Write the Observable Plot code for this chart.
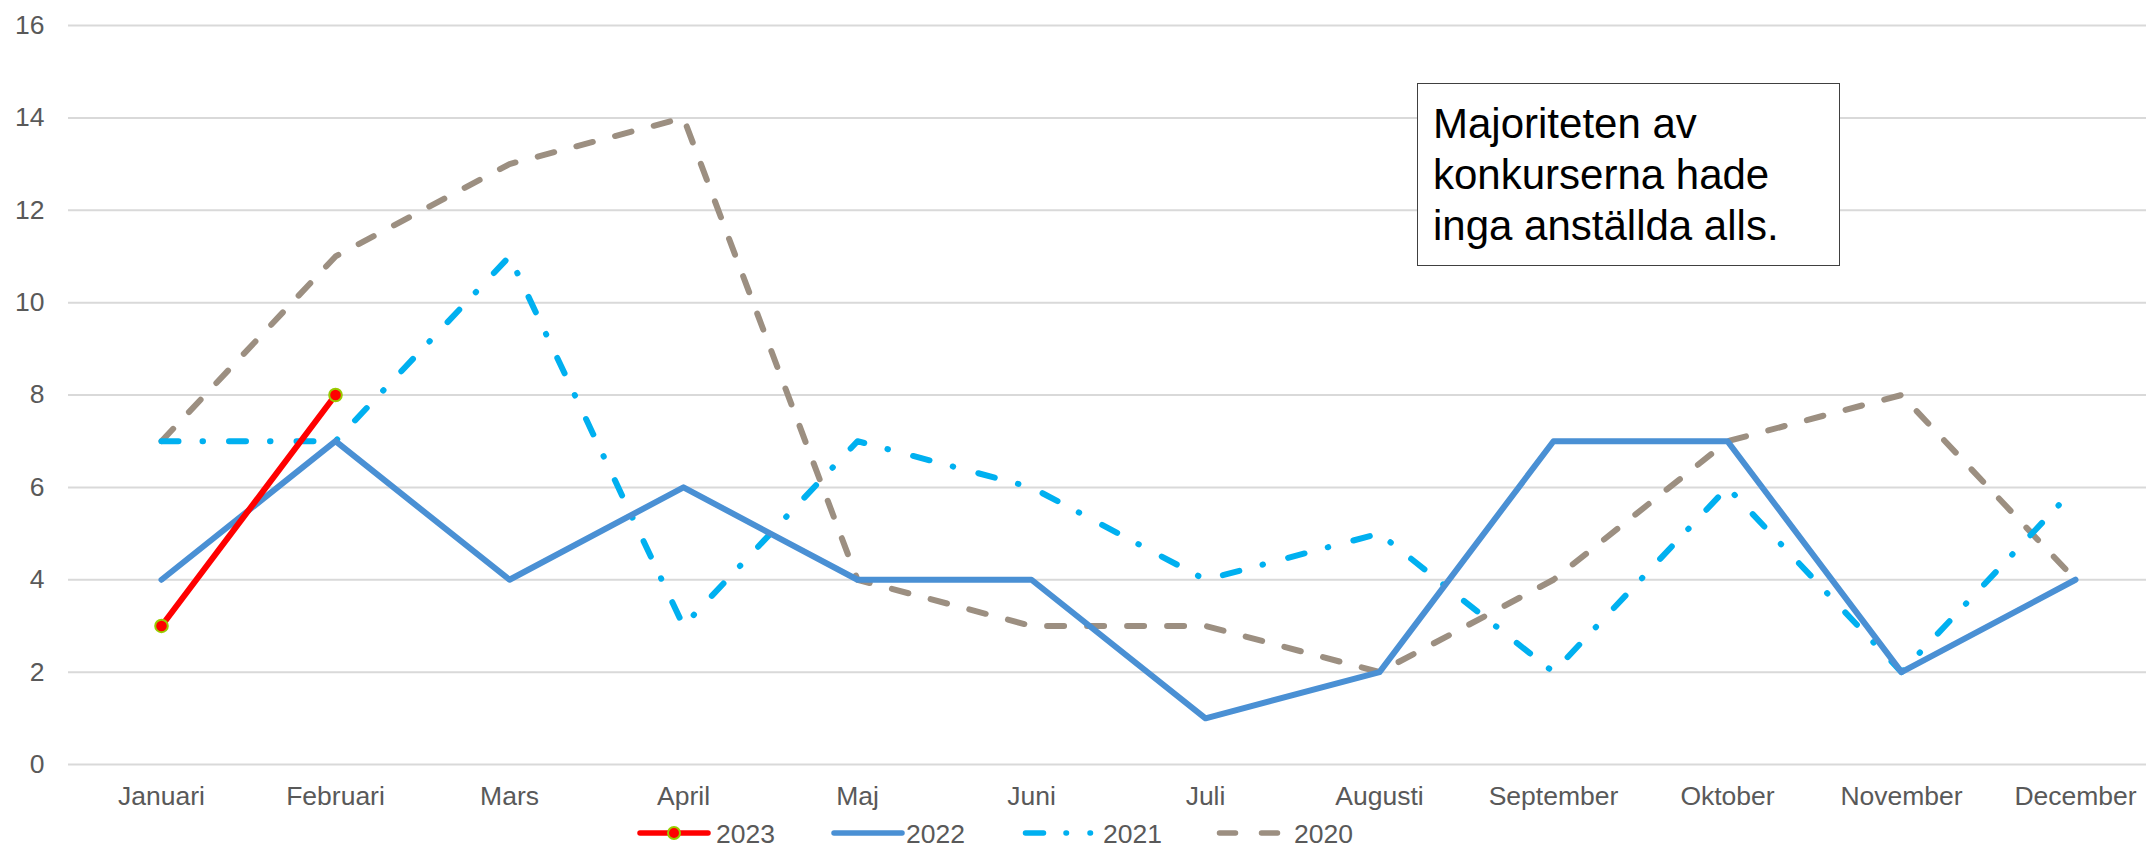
<!DOCTYPE html>
<html>
<head>
<meta charset="utf-8">
<script src="https://cdn.jsdelivr.net/npm/d3@7"></script>
<script src="https://cdn.jsdelivr.net/npm/@observablehq/plot@0.6"></script>
<style>
  html, body { margin: 0; padding: 0; background: #fff; }
  #wrap { position: relative; width: 2146px; height: 846px; font-family: "Liberation Sans", Arial, sans-serif; }
  #note { position: absolute; left: 1417px; top: 83px; width: 421px; height: 181px; border: 1px solid #404040;
          background: #fff; box-sizing: content-box; padding: 0; font-size: 42px; line-height: 51px; color: #000; }
  #note div { padding: 14px 0 0 15px; }
  #legend { position: absolute; left: 0; top: 818px; height: 28px; width: 2146px; font-size: 26.5px; color: #595959; }
  #legend svg { position: absolute; left: 0; top: 0; }
  .lt { position: absolute; top: 0; height: 32px; line-height: 32px; }
</style>
</head>
<body>
<div id="wrap">
  <div id="chart"></div>
  <div id="note"><div>Majoriteten av<br>konkurserna hade<br>inga anställda alls.</div></div>
  <div id="legend"></div>
</div>
<script>
const months = ["Januari","Februari","Mars","April","Maj","Juni","Juli","Augusti","September","Oktober","November","December"];
const v2023 = [3, 8];
const v2022 = [4, 7, 4, 6, 4, 4, 1, 2, 7, 7, 2, 4];
const v2021 = [7, 7, 11, 3, 7, 6, 4, 5, 2, 6, 2, 6];
const v2020 = [7, 11, 13, 14, 4, 3, 3, 2, 4, 7, 8, 4];
const seriesNames = ["2023", "2022", "2021", "2020"];
const yTicks = [0, 2, 4, 6, 8, 10, 12, 14, 16];

const colors = {"2023": "#FF0000", "2022": "#4A90D4", "2021": "#00B0F0", "2020": "#9C8F81"};
const dashes = {"2023": null, "2022": null, "2021": "17,24,0.5,26", "2020": "17,23"};

const toRows = (name, vals) => vals.map((v, i) => ({series: name, month: months[i], value: v}));
const rows = {"2023": toRows("2023", v2023), "2022": toRows("2022", v2022), "2021": toRows("2021", v2021), "2020": toRows("2020", v2020)};

const lineMark = name => Plot.line(rows[name], {
  x: "month", y: "value", stroke: colors[name], strokeWidth: 6,
  strokeDasharray: dashes[name] || undefined, strokeLinecap: "round", strokeLinejoin: "round"
});

const chart = Plot.plot({
  width: 2146, height: 818,
  marginLeft: 68, marginRight: 0, marginTop: 25, marginBottom: 54,
  style: {fontFamily: "'Liberation Sans', Arial, sans-serif", fontSize: "26.5px", color: "#595959", background: "#fff", overflow: "visible"},
  x: {type: "point", domain: months, range: [156, 2079], padding: 0, label: null},
  y: {domain: [0, 16], ticks: yTicks, label: null},
  marks: [
    Plot.ruleY(yTicks, {stroke: "#D9D9D9", strokeWidth: 2}),
    Plot.axisX({tickSize: 0, tickPadding: 22, label: null, fill: "#595959"}),
    Plot.axisY({ticks: yTicks, tickSize: 0, tickPadding: 24, label: null, fill: "#595959"}),
    lineMark("2020"),
    lineMark("2021"),
    lineMark("2022"),
    lineMark("2023"),
    Plot.dot(rows["2023"], {x: "month", y: "value", r: 6.3, fill: "#FF0000", stroke: "#99CC00", strokeWidth: 2})
  ]
});
document.getElementById("chart").appendChild(chart);

// legend (swatches + labels)
const legendSwatch = {
  "2023": {x1: 640, x2: 708, dash: null, marker: 674, text: 716},
  "2022": {x1: 834, x2: 902, dash: null, text: 906},
  "2021": {x1: 1025.5, x2: 1092, dash: "18,22.5,0.5,23.5,0.5,100", text: 1103},
  "2020": {x1: 1219.5, x2: 1279, dash: "16,26,16,100", text: 1294}
};
const legend = document.getElementById("legend");
const ns = "http://www.w3.org/2000/svg";
const lsvg = document.createElementNS(ns, "svg");
lsvg.setAttribute("width", 2146); lsvg.setAttribute("height", 28);
legend.appendChild(lsvg);
for (const name of seriesNames) {
  const s = legendSwatch[name];
  const ln = document.createElementNS(ns, "line");
  ln.setAttribute("x1", s.x1); ln.setAttribute("x2", s.x2); ln.setAttribute("y1", 15); ln.setAttribute("y2", 15);
  ln.setAttribute("stroke", colors[name]); ln.setAttribute("stroke-width", 5.5); ln.setAttribute("stroke-linecap", "round");
  if (s.dash) ln.setAttribute("stroke-dasharray", s.dash);
  lsvg.appendChild(ln);
  if (s.marker) {
    const c = document.createElementNS(ns, "circle");
    c.setAttribute("cx", s.marker); c.setAttribute("cy", 15); c.setAttribute("r", 6);
    c.setAttribute("fill", "#FF0000"); c.setAttribute("stroke", "#99CC00"); c.setAttribute("stroke-width", 2);
    lsvg.appendChild(c);
  }
  const t = document.createElement("div");
  t.className = "lt";
  t.style.left = s.text + "px";
  t.textContent = name;
  legend.appendChild(t);
}
</script>
</body>
</html>
